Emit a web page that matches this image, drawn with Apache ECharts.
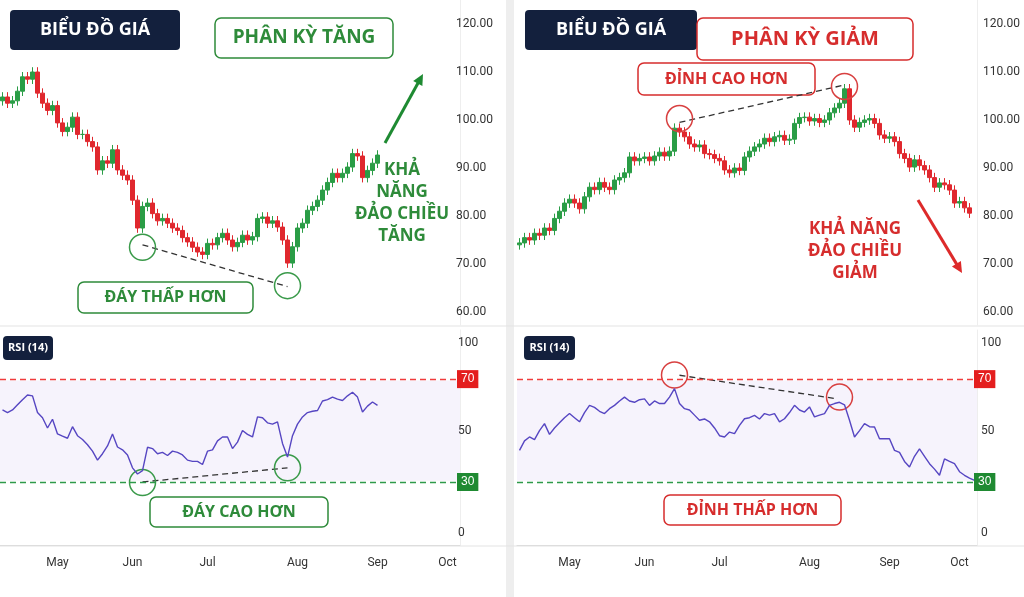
<!DOCTYPE html>
<html><head><meta charset="utf-8">
<script src="https://cdn.jsdelivr.net/npm/echarts@6/dist/echarts.min.js"></script>
<style>html,body{margin:0;padding:0;background:#fff}#c{width:1024px;height:597px}</style>
</head><body><div id="c"></div>
<script>
// ---- data ----
const leftClose = [104.8,103.5,104,106,109,108.5,110,105.6,103.5,102,103,99.4,97.6,98.5,100.6,97,97,95.5,94.4,89.6,91.5,91,93.8,89.6,88.5,87.5,83.3,77.5,82,82.7,80.5,79,79.5,78.5,77.5,77,75.5,74.6,73.5,72.5,72,74.3,74,75.5,76.4,75,73.6,74.5,76,75,75.7,79.5,79.8,78.5,79,77.7,75,70.2,73.6,77.5,78.5,81.2,82,83.3,85.4,87,88.9,88,88.9,90.2,93,92.5,88,89.5,91,92.7];
const leftRsi = [58,57,58,60,62,63.8,63.5,57,55,51,54.4,48.7,47.8,47,51.5,48,46.5,44.5,42,38.5,41,44,48.7,43.6,42.5,40.5,35.5,33.1,34.4,43.5,43,41,41.5,40.3,42,41.5,40.5,38.5,38,38,36.8,42,42.5,46,47.5,47.5,43,45.5,50,48.5,47.5,55.3,55,53,52.5,53.4,45,39.7,48,52.5,55.3,57,57.5,57.8,61.5,62,63,62.2,61.7,63.5,64.9,63,57.2,59.5,61.1,59.8];
const rightClose = [74.4,75.5,75,76.4,76,77.5,77,79.5,81,82.7,83.5,82.7,81.5,84,86,85.5,87,86,85.5,87.5,88,89,92.3,91.5,92,92.3,91.5,92.5,93.3,92.5,93.5,98.3,97.5,96.5,95,94.4,94.8,93,92.8,92,91.5,89.6,89,90,89.5,92.3,93.5,94.4,95,96.2,95.5,96.5,96.8,95.8,96,99.3,100.5,100.6,99.8,100.3,99.5,100,101.5,102.5,103.5,106.5,100,98.5,99.5,100,100.3,99.3,96.9,96.2,96.5,95.5,93,92,90.2,91.7,90.5,89.6,88,86,86.9,86.5,85.4,82.7,83,81.7,80.6];
const rightRsi = [42.3,46,47.5,46.5,50,52.7,48.5,51,53,55,56.6,55,53.4,57,59.8,59,57.5,56.6,58.5,59.8,61.5,63,61.5,61,62,62.3,59.8,61.5,60.5,60.5,63,66.3,60.5,58.5,58,56,54,54.5,53.4,51,48,47.5,49.4,48.8,52,54.6,55,55.9,54.5,56.6,56,56.6,53.4,54.6,57,59.8,58,57.2,59.2,55.3,56,56.6,59.8,60.5,61,60,54,47.5,50,52.7,51.5,51.4,46.8,46.8,46.8,42.3,41.5,38,35.8,40,42.9,40,37.1,35,32.6,39,38,37.1,34,32.6,31.5,30.6];
const leftMonths = {11:'May',26:'Jun',41:'Jul',59:'Aug',75:'Sep',89:'Oct'};
const rightMonths = {10:'May',25:'Jun',40:'Jul',58:'Aug',74:'Sep',88:'Oct'};
const priceTicks = [60,70,80,90,100,110,120];
const slots = 92;

// ---- build ----
const GREEN='#2a9d46', RED='#e0282e', NAVY='#13203d', TGREEN='#2e8b3a', TRED='#d62d2d';
function ohlc(cl, first){
  return cl.map((c,i)=>{const o=i===0?first:cl[i-1];return [o,c,Math.min(o,c)-1,Math.max(o,c)+1];});
}
const cats = Array.from({length:slots},(_,i)=>String(i));
function xAx(gi, months, show){
  return {type:'category',gridIndex:gi,data:cats,boundaryGap:true,
    axisLine:{show:show,lineStyle:{color:'#ddd'}},axisTick:{show:false},splitLine:{show:false},
    axisLabel:{show:show,interval:(i)=>months[i]!==undefined,formatter:(v,i)=>months[i]||'',color:'#333',fontSize:12,margin:12,fontFamily:'Roboto'}};
}
function priceY(gi, margin){
  return {type:'value',gridIndex:gi,position:'right',min:57.3,max:125,scale:true,
    axisLine:{show:true,lineStyle:{color:'#eee'}},axisTick:{show:false},splitLine:{show:false},
    axisLabel:{customValues:priceTicks,formatter:v=>v.toFixed(2),color:'#333',fontSize:12,margin:margin,fontFamily:'Roboto'}};
}
function rsiY(gi, margin){
  return {type:'value',gridIndex:gi,position:'right',min:5.5,max:89.1,
    axisLine:{show:true,lineStyle:{color:'#eee'}},axisTick:{show:false},splitLine:{show:false},
    axisLabel:{customValues:[10,50,84],formatter:v=>v===10?'0':(v===84?'100':'50'),color:'#333',fontSize:12,margin:margin,fontFamily:'Roboto'}};
}
function circle(coord,color){return {coord:coord,symbol:'circle',symbolSize:26,itemStyle:{color:'rgba(0,0,0,0)',borderColor:color,borderWidth:1.5},label:{show:false}};}
function dashLine(a,b){return {data:[[{coord:a},{coord:b}]],symbol:['none','none'],silent:true,lineStyle:{color:'#333',type:[6,4],width:1.3},label:{show:false}};}
function levelSeries(xi,yi,val,lineColor,boxColor){
  return {type:'line',xAxisIndex:xi,yAxisIndex:yi,data:[],z:10,
    markLine:{silent:true,symbol:['none','none'],z:10,
      label:{show:true,position:'end',formatter:String(val),color:'#fff',backgroundColor:boxColor,padding:[3,4],fontSize:12,distance:-3},
      data:[{yAxis:val,lineStyle:{color:lineColor,type:[6,4],width:1.4,opacity:1}}]}};
}
function rsiSeries(data,xi,yi,circles,color){
  return {type:'line',xAxisIndex:xi,yAxisIndex:yi,data:data,showSymbol:false,smooth:false,
    lineStyle:{color:'#5646c2',width:1.4},z:5,
    markArea:{silent:true,z:1,itemStyle:{color:'rgba(140,100,220,0.08)'},data:[[{yAxis:30.5},{yAxis:69.5}]]},
    markPoint:{data:circles.map(c=>circle(c,color)),silent:true}};
}
const series = [
  {type:'candlestick',xAxisIndex:0,yAxisIndex:0,data:ohlc(leftClose,104),barWidth:4,
    itemStyle:{color:GREEN,color0:RED,borderColor:GREEN,borderColor0:RED},
    markPoint:{silent:true,data:[circle([28,73.5],'#3a9a4a'),circle([57,65.5],'#3a9a4a')]},
    markLine:dashLine([28,74],[57,65.3])},
  rsiSeries(leftRsi,1,1,[[28,29.8],[57,35.5]],'#3a9a4a'),
  levelSeries(1,1,70,'#f03c3c','#e41e1e'),
  levelSeries(1,1,30,'#2e9a4a','#1f8a32'),
  {type:'line',xAxisIndex:1,yAxisIndex:1,data:[],markLine:dashLine([28,30],[57,35.5])},
  {type:'candlestick',xAxisIndex:2,yAxisIndex:2,data:ohlc(rightClose,74),barWidth:4,
    itemStyle:{color:GREEN,color0:RED,borderColor:GREEN,borderColor0:RED},
    markPoint:{silent:true,data:[circle([32,100.3],'#d84040'),circle([65,107],'#d84040')]},
    markLine:dashLine([32,99.5],[65,107.3])},
  rsiSeries(rightRsi,3,3,[[31,71.6],[64,63]],'#d84040'),
  levelSeries(3,3,70,'#f03c3c','#e41e1e'),
  levelSeries(3,3,30,'#2e9a4a','#1f8a32'),
  {type:'line',xAxisIndex:3,yAxisIndex:3,data:[],markLine:dashLine([32,71.5],[63,62.5])}
];
function box(x,y,w,h,text,color,fs,fill){
  return {type:'group',children:[
    {type:'rect',shape:{x:x,y:y,width:w,height:h,r:fill?4:6},style:{fill:fill||'#fff',stroke:fill?null:color,lineWidth:1.5}},
    {type:'text',x:x+w/2,y:y+h/2,style:{text:text,fill:fill?'#fff':color,font:'bold '+fs+'px "Open Sans", sans-serif',align:'center',verticalAlign:'middle'}}]};
}
function arrow(x1,y1,x2,y2,color){
  const a=Math.atan2(y2-y1,x2-x1),L=12,s=0.45;
  return {type:'group',children:[
    {type:'line',shape:{x1:x1,y1:y1,x2:x2-Math.cos(a)*6,y2:y2-Math.sin(a)*6},style:{stroke:color,lineWidth:3}},
    {type:'polygon',shape:{points:[[x2,y2],[x2-L*Math.cos(a-s),y2-L*Math.sin(a-s)],[x2-L*Math.cos(a+s),y2-L*Math.sin(a+s)]]},style:{fill:color}}]};
}
const graphic = [
  {type:'rect',shape:{x:506,y:0,width:8,height:597},style:{fill:'#eeeeee'}},
  {type:'line',shape:{x1:0,y1:326,x2:1024,y2:326},style:{stroke:'#e3e3e3',lineWidth:1}},
  {type:'line',shape:{x1:0,y1:546,x2:1024,y2:546},style:{stroke:'#e3e3e3',lineWidth:1}},
  box(10,10,170,40,'BIỂU ĐỒ GIÁ','#fff',18,NAVY),
  box(215,18,178,40,'PHÂN KỲ TĂNG',TGREEN,19),
  box(525,10,172,40,'BIỂU ĐỒ GIÁ','#fff',18,NAVY),
  box(697,18,216,42,'PHÂN KỲ GIẢM',TRED,20),
  box(638,63,177,32,'ĐỈNH CAO HƠN',TRED,16),
  box(78,282,175,31,'ĐÁY THẤP HƠN',TGREEN,16),
  box(150,497,178,30,'ĐÁY CAO HƠN',TGREEN,16),
  box(664,495,177,30,'ĐỈNH THẤP HƠN',TRED,16),
  box(3,336,50,24,'RSI (14)','#fff',11,NAVY),
  box(524,336,51,24,'RSI (14)','#fff',11,NAVY),
  {type:'text',x:402,y:203,style:{text:'KHẢ\nNĂNG\nĐẢO CHIỀU\nTĂNG',fill:TGREEN,font:'bold 17px "Open Sans", sans-serif',align:'center',verticalAlign:'middle',lineHeight:22}},
  {type:'text',x:855,y:251,style:{text:'KHẢ NĂNG\nĐẢO CHIỀU\nGIẢM',fill:TRED,font:'bold 17px "Open Sans", sans-serif',align:'center',verticalAlign:'middle',lineHeight:22}},
  arrow(385,143,423,74,'#1e8a32'),
  arrow(918,200,962,273,'#dd2a2a')
];
const chart = echarts.init(document.getElementById('c'));
chart.setOption({
  animation:false,backgroundColor:'#fff',
  grid:[{left:0,top:0,width:460,height:325},{left:0,top:330,width:460,height:215},
        {left:517,top:0,width:460,height:325},{left:517,top:330,width:460,height:215}],
  xAxis:[xAx(0,leftMonths,false),xAx(1,leftMonths,true),xAx(2,rightMonths,false),xAx(3,rightMonths,true)],
  yAxis:[priceY(0,-4),rsiY(1,-2),priceY(2,6),rsiY(3,4)],
  series:series,graphic:graphic
});
</script></body></html>
